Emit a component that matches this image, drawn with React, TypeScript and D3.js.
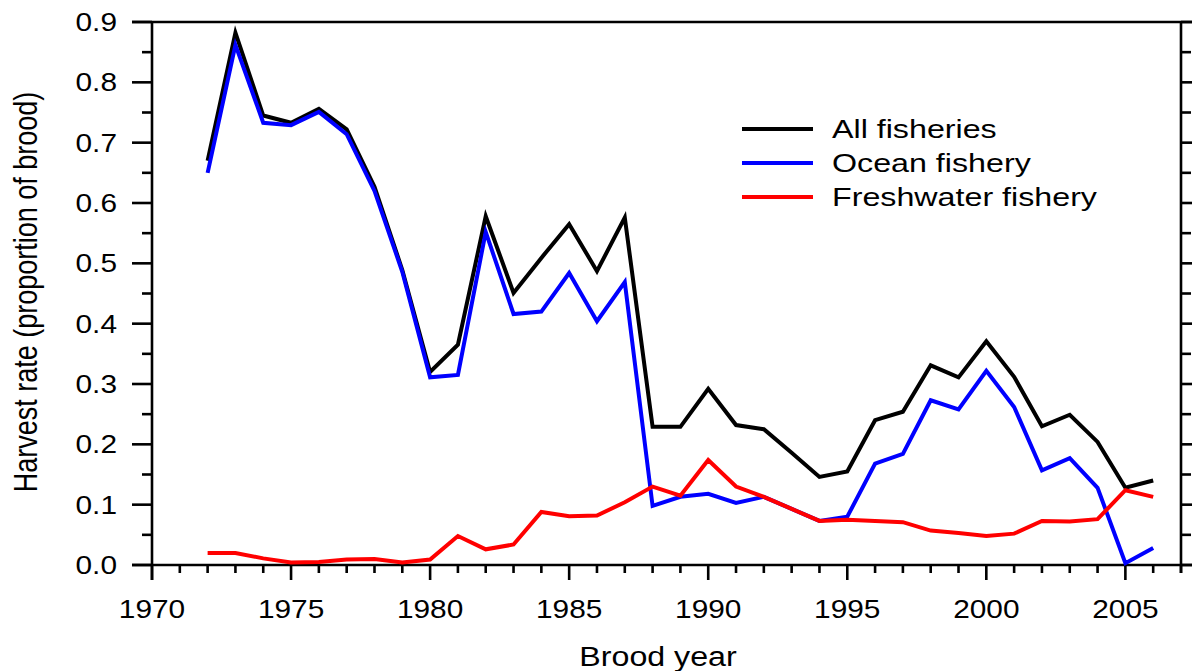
import React from "react";
import * as d3 from "d3";

const years: number[] = [
  1972, 1973, 1974, 1975, 1976, 1977, 1978, 1979, 1980, 1981, 1982, 1983, 1984, 1985, 1986, 1987, 1988, 1989,
  1990, 1991, 1992, 1993, 1994, 1995, 1996, 1997, 1998, 1999, 2000, 2001, 2002, 2003, 2004, 2005, 2006,
];
const allFisheries: number[] = [
  0.67, 0.882, 0.745, 0.733, 0.756, 0.722, 0.627, 0.489, 0.32, 0.365, 0.578, 0.451, 0.509, 0.565, 0.487, 0.576,
  0.229, 0.229, 0.292, 0.232, 0.225, 0.186, 0.146, 0.155, 0.24, 0.254, 0.331, 0.311, 0.371, 0.312, 0.23, 0.249,
  0.204, 0.128, 0.14,
];
const oceanFishery: number[] = [
  0.65, 0.862, 0.733, 0.729, 0.751, 0.714, 0.62, 0.486, 0.311, 0.315, 0.552, 0.416, 0.42, 0.484, 0.404, 0.469,
  0.098, 0.113, 0.118, 0.103, 0.113, 0.093, 0.073, 0.08, 0.168, 0.184, 0.273, 0.258, 0.322, 0.262, 0.157, 0.177,
  0.128, 0.003, 0.028,
];
const freshwaterFishery: number[] = [
  0.02, 0.02, 0.011, 0.004, 0.005, 0.009, 0.01, 0.004, 0.009, 0.048, 0.026, 0.034, 0.088, 0.081, 0.082, 0.104,
  0.13, 0.115, 0.174, 0.13, 0.113, 0.093, 0.073, 0.075, 0.073, 0.071, 0.057, 0.053, 0.048, 0.052, 0.073, 0.072,
  0.076, 0.124, 0.113,
];
const seriesNames: string[] = ["All fisheries", "Ocean fishery", "Freshwater fishery"];
const seriesColors: string[] = ["#000000", "#0000ff", "#ff0000"];
const xMajorTicks: number[] = [1970, 1975, 1980, 1985, 1990, 1995, 2000, 2005];
const yMajorTicks: number[] = [0, 0.1, 0.2, 0.3, 0.4, 0.5, 0.6, 0.7, 0.8, 0.9];

const W = 1192;
const H = 671;
const L = 152;
const R = 1181;
const T = 22;
const B = 565;

export default function App() {
  const x = d3.scaleLinear().domain([1970, 2007]).range([L, R]);
  const y = d3.scaleLinear().domain([0, 0.9]).range([B, T]);
  const series = [allFisheries, oceanFishery, freshwaterFishery];
  const line = d3
    .line<[number, number]>()
    .x((d) => x(d[0]))
    .y((d) => y(d[1]));
  const xMinor = d3.range(1970, 2008);
  const yMinor = d3.range(0, 19).map((i) => i * 0.05);
  const font = "'Liberation Sans', Arial, Helvetica, sans-serif";
  const axisW = 2.6;

  return (
    <svg
      width={W}
      height={H}
      style={{ position: "absolute", left: 0, top: 0, background: "#fff" }}
      fontFamily={font}
    >
      <rect x={0} y={0} width={W} height={H} fill="#fff" />
      {/* frame */}
      <line x1={L - 20} x2={W} y1={T} y2={T} stroke="#000" strokeWidth={axisW} />
      <line x1={L - 20} x2={W} y1={B} y2={B} stroke="#000" strokeWidth={axisW} />
      <line x1={L} x2={L} y1={T} y2={B + 15} stroke="#000" strokeWidth={axisW} />
      <line x1={R} x2={R} y1={T} y2={B + 8} stroke="#000" strokeWidth={axisW} />
      {/* y ticks */}
      {yMinor.map((v, i) => {
        const major = i % 2 === 0;
        const len = major ? 20 : 10;
        return (
          <g key={"yt" + i}>
            <line x1={L - len} x2={L} y1={y(v)} y2={y(v)} stroke="#000" strokeWidth={axisW} />
            <line x1={R} x2={R + len} y1={y(v)} y2={y(v)} stroke="#000" strokeWidth={axisW} />
          </g>
        );
      })}
      {yMajorTicks.map((v) => (
        <text
          key={"yl" + v}
          transform={`translate(117,${y(v) + 9}) scale(1.17,1)`}
          textAnchor="end"
          fontSize={25.5}
          fill="#000"
        >
          {v.toFixed(1)}
        </text>
      ))}
      {/* x ticks */}
      {xMinor.map((yr) => {
        const major = yr % 5 === 0;
        const len = major ? 15 : 8;
        return <line key={"xt" + yr} x1={x(yr)} x2={x(yr)} y1={B} y2={B + len} stroke="#000" strokeWidth={axisW} />;
      })}
      {xMajorTicks.map((yr) => (
        <text
          key={"xl" + yr}
          transform={`translate(${x(yr)},618) scale(1.17,1)`}
          textAnchor="middle"
          fontSize={25.5}
          fill="#000"
        >
          {yr}
        </text>
      ))}
      {/* axis titles */}
      <text transform={`translate(658,666) scale(1.15,1)`} textAnchor="middle" fontSize={28} fill="#000">
        Brood year
      </text>
      <text
        transform={`translate(37,292) scale(1.24,1) rotate(-90)`}
        textAnchor="middle"
        fontSize={27}
        fill="#000"
      >
        Harvest rate (proportion of brood)
      </text>
      {/* data lines */}
      {series.map((vals, si) => (
        <path
          key={"s" + si}
          d={line(years.map((yr, i) => [yr, vals[i]] as [number, number])) || ""}
          fill="none"
          stroke={seriesColors[si]}
          strokeWidth={4}
          strokeLinejoin="miter"
        />
      ))}
      {/* legend */}
      {seriesNames.map((name, i) => {
        const ly = 129 + i * 34;
        return (
          <g key={"lg" + i}>
            <line x1={742} x2={813} y1={ly} y2={ly} stroke={seriesColors[i]} strokeWidth={4} />
            <text transform={`translate(832,${ly + 9}) scale(1.24,1)`} fontSize={26} fill="#000">
              {name}
            </text>
          </g>
        );
      })}
    </svg>
  );
}
